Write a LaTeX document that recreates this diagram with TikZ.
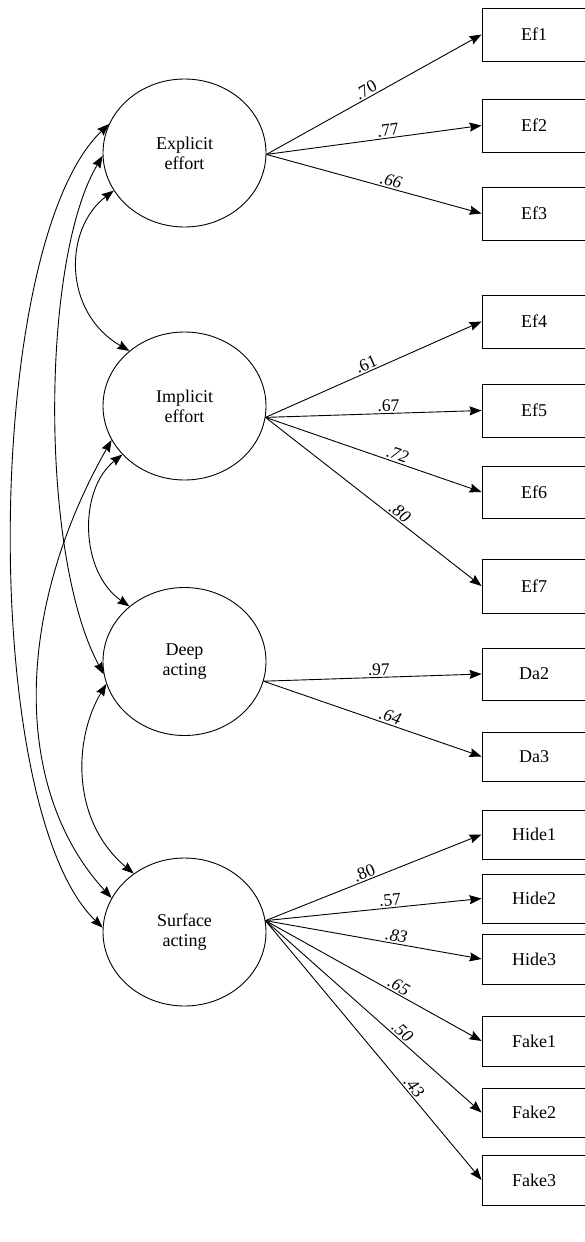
\documentclass[tikz,border=0pt]{standalone}
\usepackage{fontspec}
\setmainfont{Liberation Serif}
\usetikzlibrary{arrows.meta,shapes.geometric,calc}
\begin{document}
\begin{tikzpicture}[x=1pt,y=-1pt,
  latent/.style={draw, ellipse, minimum width=163pt, minimum height=148pt, inner sep=0pt,
    align=center, font=\fontsize{18}{20}\selectfont, line width=0.9pt},
  ind/.style={draw, rectangle, minimum width=104pt, inner sep=0pt,
    font=\fontsize{18}{20}\selectfont, line width=0.9pt},
  tip/.tip={Stealth[length=12pt,width=9pt,inset=1.5pt]},
  load/.style={-tip, line width=0.9pt},
  cov/.style={tip-tip, line width=0.9pt},
  lab/.style={sloped, above, inner sep=1.5pt, font=\fontsize{17.5}{17.5}\selectfont},
  ilab/.style={lab, font=\fontsize{17.5}{17.5}\selectfont\itshape}]
\useasboundingbox (0,0) rectangle (584,1242);

% latent factors
\node[latent] (EE) at (184.5,153) {Explicit\\effort};
\node[latent] (II) at (184.5,406) {Implicit\\effort};
\node[latent] (DD) at (184.5,661.5) {Deep\\acting};
\node[latent] (SS) at (184.5,932) {Surface\\acting};

% indicators
\node[ind, minimum height=53pt] (Ef1) at (534,34.5) {Ef1};
\node[ind, minimum height=53pt] (Ef2) at (534,125.5) {Ef2};
\node[ind, minimum height=53pt] (Ef3) at (534,213.5) {Ef3};
\node[ind, minimum height=53pt] (Ef4) at (534,321.5) {Ef4};
\node[ind, minimum height=53pt] (Ef5) at (534,410.5) {Ef5};
\node[ind, minimum height=52pt] (Ef6) at (534,492) {Ef6};
\node[ind, minimum height=54pt] (Ef7) at (534,586) {Ef7};
\node[ind, minimum height=52pt] (Da2) at (534,674) {Da2};
\node[ind, minimum height=49pt] (Da3) at (534,756.5) {Da3};
\node[ind, minimum height=49pt] (Hide1) at (534,834.5) {Hide1};
\node[ind, minimum height=49pt] (Hide2) at (534,898.5) {Hide2};
\node[ind, minimum height=50pt] (Hide3) at (534,959) {Hide3};
\node[ind, minimum height=50pt] (Fake1) at (534,1041) {Fake1};
\node[ind, minimum height=49pt] (Fake2) at (534,1112.5) {Fake2};
\node[ind, minimum height=50pt] (Fake3) at (534,1180) {Fake3};

% loadings
\draw[load] (EE.-1.5) -- node[lab,pos=0.48]{.70} (Ef1.west);
\draw[load] (EE.-1.5) -- node[lab,pos=0.57]{.77} (Ef2.west);
\draw[load] (EE.-1.5) -- node[ilab,pos=0.57]{.66} (Ef3.west);

\draw[load] (II.-8) -- node[lab,pos=0.48]{.61} (Ef4.west);
\draw[load] (II.-8) -- node[lab,pos=0.57]{.67} (Ef5.west);
\draw[load] (II.-8) -- node[ilab,pos=0.6]{.72} (Ef6.west);
\draw[load] (II.-8) -- node[ilab,pos=0.6]{.80} (Ef7.west);

\draw[load] (DD.-14) -- node[lab,pos=0.53]{.97} (Da2.west);
\draw[load] (DD.-14) -- node[ilab,pos=0.57]{.64} (Da3.west);

\draw[load] (SS.8.5) -- node[lab,pos=0.47]{.80} (Hide1.west);
\draw[load] (SS.8.5) -- node[lab,pos=0.58]{.57} (Hide2.west);
\draw[load] (SS.8.5) -- node[ilab,pos=0.6]{.83} (Hide3.west);
\draw[load] (SS.8.5) -- node[ilab,pos=0.6]{.65} (Fake1.west);
\draw[load] (SS.8.5) -- node[ilab,pos=0.61]{.50} (Fake2.west);
\draw[load] (SS.8.5) -- node[ilab,pos=0.66]{.43} (Fake3.west);

% covariances
\draw[cov] (EE.208) .. controls +(-50,38) and +(-67,-39) .. (II.135);
\draw[cov] (II.218) .. controls +(-44,35) and +(-50,-35) .. (DD.135);
\draw[cov] (DD.196) .. controls +(-33,55) and +(-63,-53) .. (SS.131);
\draw[cov] (EE.182) .. controls +(-62,104) and +(-64,-118) .. (DD.189);
\draw[cov] (II.205) .. controls +(-97,171) and +(-100,-109) .. (SS.155);
\draw[cov] (EE.159) .. controls +(-126,120) and +(-124,-120) .. (SS.177);
\end{tikzpicture}
\end{document}
